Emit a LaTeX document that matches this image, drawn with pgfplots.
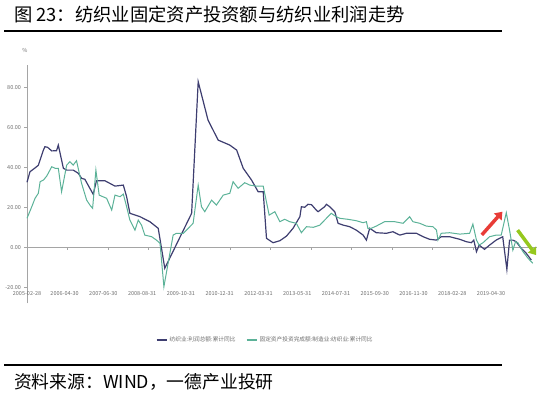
\documentclass[border=0pt]{standalone}
\usepackage{fontspec}
\setmainfont{Noto Sans CJK SC}
\usepackage{pgfplots}
\pgfplotsset{compat=1.18}
\usetikzlibrary{arrows.meta}
\definecolor{navy}{RGB}{62,62,112}
\definecolor{teal2}{RGB}{92,178,152}
\definecolor{axgray}{RGB}{165,165,165}
\definecolor{txtgray}{RGB}{110,110,110}
\definecolor{arrred}{RGB}{232,60,55}
\definecolor{arrgreen}{RGB}{150,200,30}
\begin{document}
\begin{tikzpicture}
\useasboundingbox (0,0) rectangle (547pt,-399pt);
\node[anchor=west, inner sep=0] at (14pt,-15pt) {\fontsize{18.3}{20}\selectfont 图 23：纺织业固定资产投资额与纺织业利润走势};
\draw[line width=1.5pt] (4pt,-31pt) -- (502pt,-31pt);
\draw[line width=1.5pt] (4pt,-365pt) -- (502pt,-365pt);
\node[anchor=west, inner sep=0] at (14pt,-382pt) {\fontsize{17.8}{20}\selectfont 资料来源：WIND，一德产业投研};
\node[text=txtgray, inner sep=0] at (25pt,-50pt) {\fontsize{5.5}{6}\selectfont \%};
\begin{axis}[
  at={(27pt,-303.3pt)}, anchor=south west,
  scale only axis, width=510pt, height=238pt,
  xmin=0, xmax=171, ymin=-28, ymax=91,
  axis x line*=middle, axis y line*=left,
  hide obscured x ticks=false,
  axis line style={draw=axgray, line width=0.6pt},
  every tick/.style={draw=axgray, line width=0.5pt},
  tick align=outside, major tick length=2.5pt,
  xtick={0,13.6,27.2,40.8,54.4,68,81.6,95.2,108.8,122.4,136,149.6,163.2},
  xticklabels={},
  extra x ticks={0,12.6,25.6,38.6,51.6,64.6,77.6,90.6,103.6,116.6,129.6,142.6,155.6},
  extra x tick labels={2005-02-28,2006-04-30,2007-06-30,2008-08-31,2009-10-31,2010-12-31,2012-03-31,2013-05-31,2014-07-31,2015-09-30,2016-11-30,2018-02-28,2019-04-30},
  extra x tick style={major tick length=0pt, tick label style={yshift=-41pt}},
  ytick={-20,0,20,40,60,80},
  yticklabel style={/pgf/number format/.cd, fixed, fixed zerofill, precision=2},
  tick label style={font=\fontsize{5.5}{6}\selectfont, text=txtgray},
  /pgf/number format/assume math mode=true,
  legend style={at={(0.467,-0.154)}, anchor=center, draw=none, fill=none,
    legend columns=2, font=\fontsize{5.7}{6}\selectfont, text=txtgray,
    /tikz/every even column/.append style={column sep=8pt}},
  legend image code/.code={\draw[line width=2pt,#1] (0pt,0pt) -- (10pt,0pt);},
  clip=false,
]
\addplot[navy, line width=1.2pt] coordinates {
(0,32.5)(1,37.8)(2.1,39)(3.8,41)(5.5,48.6)(6,50.3)(6.9,50)(8.3,48.2)(9.9,48.3)(10.5,51.1)
(12.2,39.5)(13.3,38.6)(15.5,38.6)(17.2,37)(18.3,34.5)(19.4,34)(22.2,26.5)(23.3,33.3)(26.1,33.3)
(29.5,30.6)(32.3,31.1)(33.4,25.3)(34.5,17)(37.9,15.3)(41.2,12.8)(44,9.5)(45.1,-0.5)(46.2,-10.5)
(55.2,17)(57.4,82.8)(60.7,63.6)(64.1,53.6)(68,51.1)(70.3,48.6)(72.5,39.5)(75.3,33.6)(77.5,27.8)
(79.2,27.8)(80.3,4.5)(82.5,2.3)(84.8,3.3)(87,5.6)(89.2,9.5)(91.5,15.3)(92,20.3)(93.1,20)
(94.2,21.5)(95.4,21.3)(97,18.6)(97.6,17.8)(99.8,20.3)(100.4,21.5)(101.5,20.3)(103.2,17.8)
(104.3,12)(106,11.1)(108.2,10.3)(110.4,8.6)(112.7,6.1)(113.8,3.6)(114.9,9.5)(117.1,7.3)
(120.5,7)(122.7,7.8)(125,6.1)(127.2,7)(130.6,7)(132.8,5.3)(135,4)(137.3,3.6)(138.9,5.3)
(141.7,5.3)(145.1,4)(147.3,2.8)(149,2.3)(149.8,3.6)(150.7,-2.2)(151.6,1.1)(153.4,-1)
(155.1,1.1)(157.3,3.6)(159.5,5.3)(160.9,-11)(161.8,3.6)(162.9,3.6)(164,2.8)(165.7,-0.5)
(167.4,-3)(169.1,-6.4)
};
\addlegendentry{纺织业:利润总额:累计同比}
\addplot[teal2, line width=1pt] coordinates {
(0,14.5)(1.6,20.3)(2.7,24.5)(3.8,27)(4.4,32.8)(5.5,33.6)(6.6,35.6)(8.3,40.3)(9.4,39.5)
(10.5,39.5)(11.6,27.8)(13.3,41.1)(14.4,42.8)(15.5,41.1)(16.6,43.3)(18.3,32)(20,23.6)(21.1,21.1)
(22,19.5)(23.1,38.6)(24.2,26.1)(26.7,24.5)(28.4,18.6)(29.5,26.1)(31.2,25.3)(32.3,26.6)
(33.4,20.3)(34.5,13.6)(36.2,8.6)(37.3,13.6)(38.4,11.1)(39.5,6.1)(41.8,5.3)(43.4,3.6)(44.6,2)
(45.9,-19.7)(49,6.1)(50.1,7)(52.4,7)(54.6,10.3)(55.7,12)(57.4,31.1)(58.5,20.3)(59.6,17.8)
(61.9,23.6)(63.5,21.1)(65.8,26.1)(68,27)(69.1,32.8)(70.8,29.5)(73,32.3)(74.7,31.1)(76.9,30.6)
(79.2,30.6)(81.2,16.1)(83.1,17.8)(84.8,12.8)(86.4,14)(88.1,12.8)(90.3,12)(92,7.3)(93.7,10.3)
(96,10)(98.2,11.1)(100.9,15.3)(102,17)(103.7,15.3)(104.9,14.5)(107.6,14)(110.4,13.3)
(112.7,12.3)(113.8,12.8)(114.3,9.5)(115.4,9.5)(117.1,10.6)(119.9,12.8)(123.3,12.8)(126.1,12)
(128.3,15.3)(129.4,12.8)(131.7,12)(133.9,10.6)(136.1,10.3)(137.3,8.6)(137.8,3.6)(138.9,7)
(141.7,7.3)(145.1,6.6)(148.4,7)(149.5,11.6)(150.7,3.6)(151.6,1.1)(152.9,2.3)(155.1,5.3)
(157.3,6.1)(159,6.1)(160.7,17.3)(161.8,8.6)(162.9,-1.4)(163.8,2.8)(164.6,2.3)(166.3,-2.2)
(168,-5.5)(169.6,-8)
};
\addlegendentry{固定资产投资完成额:制造业:纺织业:累计同比}
\draw[arrred, line width=3.5pt, -{Triangle[length=7pt,width=10pt]}] (axis cs:152.5,6.2) -- (axis cs:159.4,17.8);
\draw[arrgreen, line width=3.5pt, -{Triangle[length=7pt,width=10pt]}] (axis cs:164.5,8.6) -- (axis cs:170.7,-3.9);
\end{axis}
\end{tikzpicture}
\end{document}
